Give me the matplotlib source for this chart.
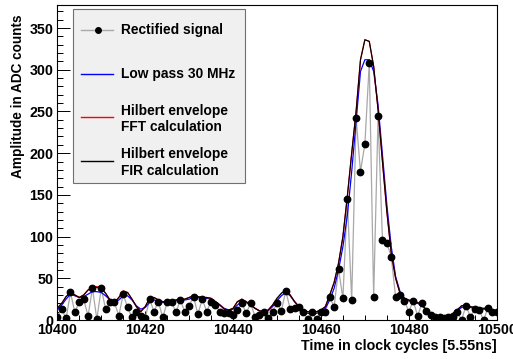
import matplotlib
matplotlib.use("Agg")
import matplotlib.pyplot as plt
from matplotlib.lines import Line2D
from matplotlib.patches import Rectangle
import numpy as np

# Clock cycles 10400 ... 10500, one sample per cycle
t_start = 10400
n_samples = 101

rectified = [4, 13, 2, 33, 9, 22, 25, 5, 38, 1,
             38, 13, 21, 21, 5, 31, 15, 3, 9, 5,
             2, 25, 10, 22, 3, 21, 22, 9, 24, 10,
             17, 28, 7, 25, 10, 22, 18, 10, 8, 8,
             6, 12, 20, 8, 20, 4, 6, 10, 2, 10,
             20, 11, 35, 13, 14, 16, 9, 1, 9, 1,
             10, 10, 27, 16, 61, 26, 145, 24, 242, 178,
             211, 308, 28, 244, 96, 92, 76, 27, 30, 23,
             10, 23, 5, 20, 11, 6, 4, 4, 2, 4,
             4, 10, 0, 17, 4, 13, 12, 0, 14, 10,
             10]

lowpass = [12, 18, 25, 31, 29, 27, 28, 31, 34, 34,
           33, 29, 24, 21, 24, 29, 29, 24, 17, 13,
           15, 21, 24, 23, 21, 21, 22, 23, 24, 24,
           25, 27, 27, 26, 26, 25, 22, 18, 14, 12,
           13, 18, 22, 21, 18, 14, 11, 10, 11, 16,
           23, 29, 33, 29, 22, 16, 11, 8, 7, 8,
           10, 14, 24, 38, 60, 88, 125, 178, 238, 298,
           312, 312, 298, 258, 198, 138, 88, 52, 34, 26,
           23, 21, 20, 17, 12, 8, 5, 4, 3, 4,
           7, 11, 15, 17, 15, 14, 13, 13, 13, 11,
           10]

hilbert_fft = [14, 20, 28, 33, 30, 27, 30, 36, 39, 40,
               39, 32, 24, 21, 27, 35, 33, 25, 16, 10,
               16, 26, 27, 24, 22, 22, 23, 24, 25, 25,
               27, 29, 28, 27, 27, 26, 22, 18, 13, 12,
               14, 22, 25, 22, 18, 14, 11, 10, 12, 18,
               26, 32, 36, 30, 22, 16, 12, 10, 9, 10,
               12, 16, 30, 45, 68, 100, 148, 200, 250, 312,
               336, 334, 304, 252, 190, 130, 80, 50, 32, 26,
               24, 22, 21, 18, 12, 8, 6, 5, 4, 5,
               8, 12, 17, 18, 16, 15, 14, 14, 14, 12,
               11]

hilbert_fir = [14, 20, 28, 33, 30, 27, 30, 36, 39, 39,
               38, 32, 24, 21, 27, 34, 33, 25, 16, 10,
               16, 26, 27, 24, 22, 22, 23, 24, 25, 25,
               27, 29, 28, 27, 27, 26, 22, 18, 13, 12,
               14, 22, 25, 22, 18, 14, 11, 10, 12, 18,
               26, 32, 36, 30, 22, 16, 12, 10, 9, 10,
               12, 16, 30, 45, 68, 100, 148, 200, 250, 312,
               336, 334, 304, 252, 190, 130, 80, 50, 32, 26,
               24, 22, 21, 18, 12, 8, 6, 5, 4, 5,
               8, 12, 17, 18, 16, 15, 14, 14, 14, 12,
               11]

legend_labels = ["Rectified signal", "Low pass 30 MHz",
                 ["Hilbert envelope", "FFT calculation"],
                 ["Hilbert envelope", "FIR calculation"]]
x_title = "Time in clock cycles [5.55ns]"
y_title = "Amplitude in ADC counts"

t = t_start + np.arange(n_samples)

W, H = 513, 359
fig = plt.figure(figsize=(W / 100, H / 100), dpi=100)
FONT = "Liberation Sans"


def fx(px):
    return px / W


def fy(py):
    return (H - py) / H


ax_l, ax_r, ax_t, ax_b = 57.3, 496.7, 4.7, 320.0
ax = fig.add_axes([fx(ax_l), fy(ax_b), fx(ax_r) - fx(ax_l), (ax_b - ax_t) / H])

gray = "#a8a8a8"
ax.plot(t, rectified, color=gray, lw=0.9, zorder=2)
ax.plot(t, lowpass, color="#0000ff", lw=0.9, zorder=3)
ax.plot(t, hilbert_fft, color="#ff0000", lw=0.9, zorder=3)
ax.plot(t, hilbert_fir, color="#000000", lw=0.8, zorder=3.5)
ax.plot(t, rectified, ls="none", marker="o", ms=4.6, color="black", zorder=4)

ax.set_xlim(10400, 10500)
ax.set_ylim(0, 378)
ax.set_xticks(np.arange(10400, 10501, 20))
ax.set_xticks(np.arange(10400, 10501, 5), minor=True)
ax.set_yticks(np.arange(0, 351, 50))
ax.set_yticks(np.arange(0, 378, 10), minor=True)

for s in ax.spines.values():
    s.set_linewidth(0.8)
ax.tick_params(axis="x", which="major", direction="in", length=6.8, width=0.7,
               pad=2.2, top=False)
ax.tick_params(axis="x", which="minor", direction="in", length=3.4, width=0.7, top=False)
ax.tick_params(axis="y", which="major", direction="in", length=9.2, width=0.7,
               pad=3.0, right=False)
ax.tick_params(axis="y", which="minor", direction="in", length=4.4, width=0.7, right=False)
for lab in ax.get_xticklabels() + ax.get_yticklabels():
    lab.set_fontfamily(FONT)
    lab.set_fontweight("bold")
    lab.set_fontsize(10.3)

fig.text(fx(496.7), fy(350.0), x_title, ha="right", va="baseline",
         fontfamily=FONT, fontweight="bold", fontsize=10.3)
fig.text(fx(18), fy(15), y_title, ha="center", va="top", rotation=90,
         fontfamily=FONT, fontweight="bold", fontsize=9.8)

# Legend box
lx0, ly0, lx1, ly1 = 73.3, 9.3, 244.5, 182.7
fig.add_artist(Rectangle((fx(lx0), fy(ly1)), fx(lx1) - fx(lx0), (ly1 - ly0) / H,
                         transform=fig.transFigure, facecolor="#f0f0f0",
                         edgecolor="#707070", lw=0.8, zorder=5))
sx0, sx1 = 80.7, 113.0
text_x = 120.7
rows = [
    (30.0, gray, True, [(30.0, legend_labels[0])]),
    (74.0, "#0000ff", False, [(74.0, legend_labels[1])]),
    (117.3, "#ff0000", False, [(111.0, legend_labels[2][0]), (127.0, legend_labels[2][1])]),
    (161.3, "#000000", False, [(154.0, legend_labels[3][0]), (170.5, legend_labels[3][1])]),
]
for sy, col, dot, texts in rows:
    fig.add_artist(Line2D([fx(sx0), fx(sx1)], [fy(sy), fy(sy)], color=col, lw=1.0,
                          transform=fig.transFigure, zorder=6))
    if dot:
        fig.add_artist(Line2D([fx(97.5)], [fy(sy)], marker="o", ms=4.0, color="black",
                              transform=fig.transFigure, zorder=7))
    for ty, txt in texts:
        fig.text(fx(text_x), fy(ty), txt, ha="left", va="center", fontfamily=FONT,
                 fontweight="bold", fontsize=9.9, zorder=7)

fig.savefig("out.png", dpi=100)
